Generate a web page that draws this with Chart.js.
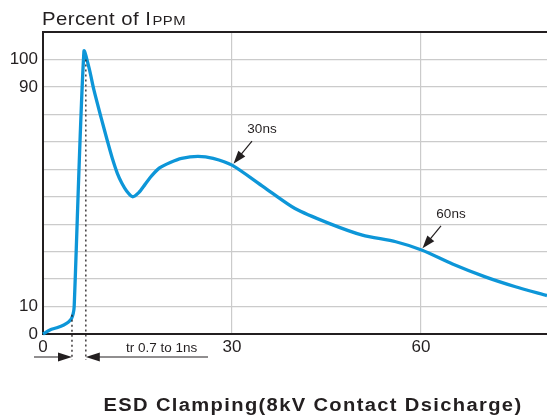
<!DOCTYPE html>
<html>
<head>
<meta charset="utf-8">
<script src="https://cdn.jsdelivr.net/npm/chart.js@4.4.0/dist/chart.umd.min.js"></script>
<style>
  html, body { margin: 0; padding: 0; background: #fff; }
  #wrap { width: 547px; height: 416px; position: relative; }
</style>
</head>
<body>
<div id="wrap"><canvas id="c"></canvas></div>
<script>
// time (ns) and current (% of Ippm)
const timeNs = [0, 1.1, 2.2, 3.3, 4.0, 4.5, 4.8, 4.95, 6.5, 7.3, 8.1, 9.2, 10.2, 11.0, 11.8, 12.5, 13.3, 14.2, 15.2, 16.2, 17.2, 18.5, 20.2, 22.0, 24.6, 27.0, 30, 35, 40, 45.5, 50.7, 56, 60.2, 65, 70.2, 75, 80];
const percent = [0, 1.5, 2.3, 3.3, 4.3, 5.5, 7.5, 10, 103, 97, 88.7, 79, 70.5, 64, 58.5, 55, 52, 50, 51.5, 54.5, 57.5, 60.5, 62.5, 64, 64.7, 64, 61.5, 53.6, 45.7, 40.2, 36, 33.6, 30.5, 25.5, 20.8, 17.2, 14];
const xTicks = [0, 30, 60];
const yLabels = [0, 10, 90, 100];
const markers = [{ t: 30, label: '30ns' }, { t: 60, label: '60ns' }];
const riseStart = 4.6, risePeak = 6.8;

const INK = '#231f20';
const BLUE = '#0d96d8';
const FONT = '"Liberation Sans", Arial, sans-serif';

function arrowHead(ctx, x, y, dx, dy, len, half) {
  const l = Math.hypot(dx, dy);
  const ux = dx / l, uy = dy / l;
  ctx.beginPath();
  ctx.moveTo(x, y);
  ctx.lineTo(x - ux * len - uy * half, y - uy * len + ux * half);
  ctx.lineTo(x - ux * len + uy * half, y - uy * len - ux * half);
  ctx.closePath();
  ctx.fill();
}

const decorations = {
  id: 'decorations',
  afterDraw(chart) {
    const ctx = chart.ctx;
    const xs = chart.scales.x, ys = chart.scales.y;
    const a = chart.chartArea;
    ctx.save();
    // frame: top line
    ctx.strokeStyle = INK;
    ctx.lineWidth = 2;
    ctx.beginPath();
    ctx.moveTo(a.left, a.top);
    ctx.lineTo(a.right, a.top);
    ctx.stroke();

    // title
    ctx.fillStyle = INK;
    ctx.textBaseline = 'alphabetic';
    ctx.textAlign = 'left';
    ctx.save();
    ctx.translate(42, 25);
    ctx.scale(1.1, 1);
    ctx.letterSpacing = '0.4px';
    ctx.font = '18.5px ' + FONT;
    const t1 = 'Percent of I';
    ctx.fillText(t1, 0, 0);
    const w1 = ctx.measureText(t1).width;
    ctx.font = '13.5px ' + FONT;
    ctx.fillText('PPM', w1 + 1, 0);
    ctx.restore();

    // bottom caption, wide bold face
    ctx.save();
    ctx.translate(313, 411);
    ctx.scale(1.12, 1);
    ctx.letterSpacing = '1.2px';
    ctx.font = 'bold 18px ' + FONT;
    ctx.textAlign = 'center';
    ctx.fillText('ESD Clamping(8kV Contact Dsicharge)', 0, 0);
    ctx.restore();
    ctx.letterSpacing = '0px';

    // dotted rise-time lines
    const xa = xs.getPixelForValue(riseStart);
    const xb = xs.getPixelForValue(risePeak);
    ctx.lineWidth = 1.3;
    ctx.setLineDash([2, 3]);
    ctx.beginPath();
    ctx.moveTo(xa, ys.getPixelForValue(7));
    ctx.lineTo(xa, 360);
    ctx.moveTo(xb, ys.getPixelForValue(100));
    ctx.lineTo(xb, 360);
    ctx.stroke();
    ctx.setLineDash([]);

    // rise-time arrows
    const ay = 357;
    ctx.lineWidth = 1.2;
    ctx.beginPath();
    ctx.moveTo(34, ay); ctx.lineTo(xa - 12, ay);
    ctx.moveTo(xb + 12, ay); ctx.lineTo(208, ay);
    ctx.stroke();
    arrowHead(ctx, xa, ay, 1, 0, 14, 4.5);
    arrowHead(ctx, xb, ay, -1, 0, 14, 4.5);
    ctx.font = '13.5px ' + FONT;
    ctx.textAlign = 'left';
    ctx.fillText('tr 0.7 to 1ns', 126, 352);

    // time markers
    markers.forEach(m => {
      const px = xs.getPixelForValue(m.t);
      let py = 0;
      for (let i = 1; i < timeNs.length; i++) {
        if (timeNs[i] >= m.t) {
          const f = (m.t - timeNs[i - 1]) / (timeNs[i] - timeNs[i - 1]);
          py = ys.getPixelForValue(percent[i - 1] + f * (percent[i] - percent[i - 1]));
          break;
        }
      }
      const tx = px + 20, ty = py - 24;
      ctx.lineWidth = 1.2;
      ctx.beginPath();
      ctx.moveTo(tx, ty);
      ctx.lineTo(px + 6, py - 7);
      ctx.stroke();
      arrowHead(ctx, px + 1.5, py - 1.5, -(tx - px), -(ty - py), 13, 4.5);
      ctx.font = '13.5px ' + FONT;
      ctx.textAlign = 'center';
      ctx.fillText(m.label, tx + 10, ty - 8);
    });
    ctx.restore();
  }
};

new Chart(document.getElementById('c'), {
  type: 'line',
  data: {
    labels: timeNs,
    datasets: [{
      data: timeNs.map((t, i) => ({ x: t, y: percent[i] })),
      borderColor: BLUE,
      borderWidth: 3.3,
      pointRadius: 0,
      tension: 0.25,
      fill: false,
      clip: false
    }]
  },
  options: {
    responsive: true,
    maintainAspectRatio: false,
    animation: false,
    devicePixelRatio: 1,
    layout: { padding: { top: 32, right: 0, left: 0, bottom: 0 } },
    plugins: { legend: { display: false }, tooltip: { enabled: false } },
    scales: {
      x: {
        type: 'linear',
        min: 0, max: 80,
        afterBuildTicks: s => { s.ticks = xTicks.map(v => ({ value: v })); },
        afterFit: s => { s.height = 82; },
        grid: { color: '#cbcbcb', lineWidth: 1.2, drawTicks: false },
        border: { color: INK, width: 2 },
        ticks: {
          color: INK, padding: 3, maxRotation: 0,
          font: { size: 17, family: FONT }
        }
      },
      y: {
        min: 0, max: 110,
        ticks: {
          stepSize: 10, color: INK, padding: 5,
          font: { size: 17, family: FONT },
          callback: v => yLabels.includes(v) ? String(v) : ''
        },
        afterFit: s => { s.width = 43; },
        grid: { color: '#cbcbcb', lineWidth: 1.2, drawTicks: false },
        border: { color: INK, width: 2 }
      }
    }
  },
  plugins: [decorations]
});
</script>
</body>
</html>
